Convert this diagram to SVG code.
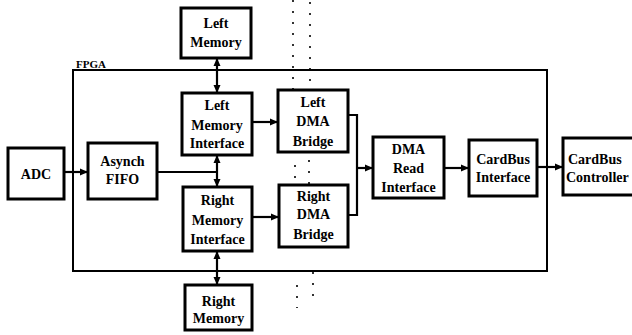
<svg xmlns="http://www.w3.org/2000/svg" width="632" height="335" viewBox="0 0 632 335">
<defs>
<style>
.box{fill:#fff;stroke:#000;stroke-width:3}
text{font-family:'Liberation Serif','DejaVu Serif',serif;font-weight:bold;fill:#000}
.t{font-size:14px;text-anchor:middle}
.c{fill:none;stroke:#000;stroke-width:2.2}
.dot{fill:none;stroke:#000;stroke-width:1.6;stroke-dasharray:2 9}
</style>
<marker id="ah" viewBox="0 0 8 8" refX="8" refY="4" markerWidth="8" markerHeight="8" markerUnits="userSpaceOnUse" orient="auto-start-reverse">
<path d="M0,0.5 L8,4 L0,7.5 Z" fill="#000"/>
</marker>
</defs>
<rect width="632" height="335" fill="#fff"/>
<g id="fpga">
<rect x="73" y="70" width="474" height="201" fill="none" stroke="#000" stroke-width="2"/>
<text x="76" y="68" font-family="Liberation Serif, DejaVu Serif, serif" font-size="11">FPGA</text>
</g>
<g id="dotted">
<path class="dot" d="M293,0 V95 M295,165 V184 M297,285 V308 M310,2 V96 M309,160 V186 M313,272 V298"/>
</g>
<g id="connectors">
<path class="c" d="M64,172 H88" marker-end="url(#ah)"/>
<path class="c" d="M157,172 H217"/>
<path class="c" d="M217,172 V155" marker-end="url(#ah)"/>
<path class="c" d="M217,172 V187" marker-end="url(#ah)"/>
<path class="c" d="M217,58 V93" marker-start="url(#ah)" marker-end="url(#ah)"/>
<path class="c" d="M217,251 V285" marker-start="url(#ah)" marker-end="url(#ah)"/>
<path class="c" d="M252,122 H278" marker-end="url(#ah)"/>
<path class="c" d="M252,217 H279" marker-end="url(#ah)"/>
<path class="c" d="M348,115 H357 V215 H348"/>
<path class="c" d="M357,168 H373" marker-end="url(#ah)"/>
<path class="c" d="M444,168 H469" marker-end="url(#ah)"/>
<path class="c" d="M537,167 H563" marker-end="url(#ah)"/>
</g>
<g font-family="Liberation Serif, DejaVu Serif, serif">
<g id="left-memory">
<rect class="box" x="181" y="8" width="70" height="50"/>
<text class="t" x="216" y="28">Left</text>
<text class="t" x="216" y="47">Memory</text>
</g>
<g id="left-memory-interface">
<rect class="box" x="182" y="93" width="70" height="62"/>
<text class="t" x="217" y="110">Left</text>
<text class="t" x="217" y="130">Memory</text>
<text class="t" x="217" y="148">Interface</text>
</g>
<g id="left-dma-bridge">
<rect class="box" x="278" y="90" width="70" height="62"/>
<text class="t" x="313" y="107">Left</text>
<text class="t" x="313" y="126">DMA</text>
<text class="t" x="313" y="146">Bridge</text>
</g>
<g id="adc">
<rect class="box" x="8" y="148" width="56" height="51"/>
<text class="t" x="36" y="179">ADC</text>
</g>
<g id="asynch-fifo">
<rect class="box" x="88" y="143" width="69" height="56"/>
<text class="t" x="122.5" y="166">Asynch</text>
<text class="t" x="122.5" y="184">FIFO</text>
</g>
<g id="right-memory-interface">
<rect class="box" x="183" y="187" width="69" height="64"/>
<text class="t" x="217.5" y="205">Right</text>
<text class="t" x="217.5" y="225">Memory</text>
<text class="t" x="217.5" y="244">Interface</text>
</g>
<g id="right-dma-bridge">
<rect class="box" x="279" y="185" width="69" height="62"/>
<text class="t" x="313.5" y="201">Right</text>
<text class="t" x="313.5" y="219">DMA</text>
<text class="t" x="313.5" y="239">Bridge</text>
</g>
<g id="right-memory">
<rect class="box" x="185" y="285" width="67" height="45"/>
<text class="t" x="218.5" y="306">Right</text>
<text class="t" x="218.5" y="323">Memory</text>
</g>
<g id="dma-read-interface">
<rect class="box" x="373" y="137" width="71" height="61"/>
<text class="t" x="408.5" y="154">DMA</text>
<text class="t" x="408.5" y="173">Read</text>
<text class="t" x="408.5" y="192">Interface</text>
</g>
<g id="cardbus-interface">
<rect class="box" x="469" y="140" width="68" height="56"/>
<text class="t" x="503" y="164">CardBus</text>
<text class="t" x="503" y="182">Interface</text>
</g>
<g id="cardbus-controller">
<rect class="box" x="563" y="138" width="80" height="57"/>
<text x="568" y="164" font-size="14">CardBus</text>
<text x="566" y="182" font-size="14">Controller</text>
</g>
</g>
</svg>
